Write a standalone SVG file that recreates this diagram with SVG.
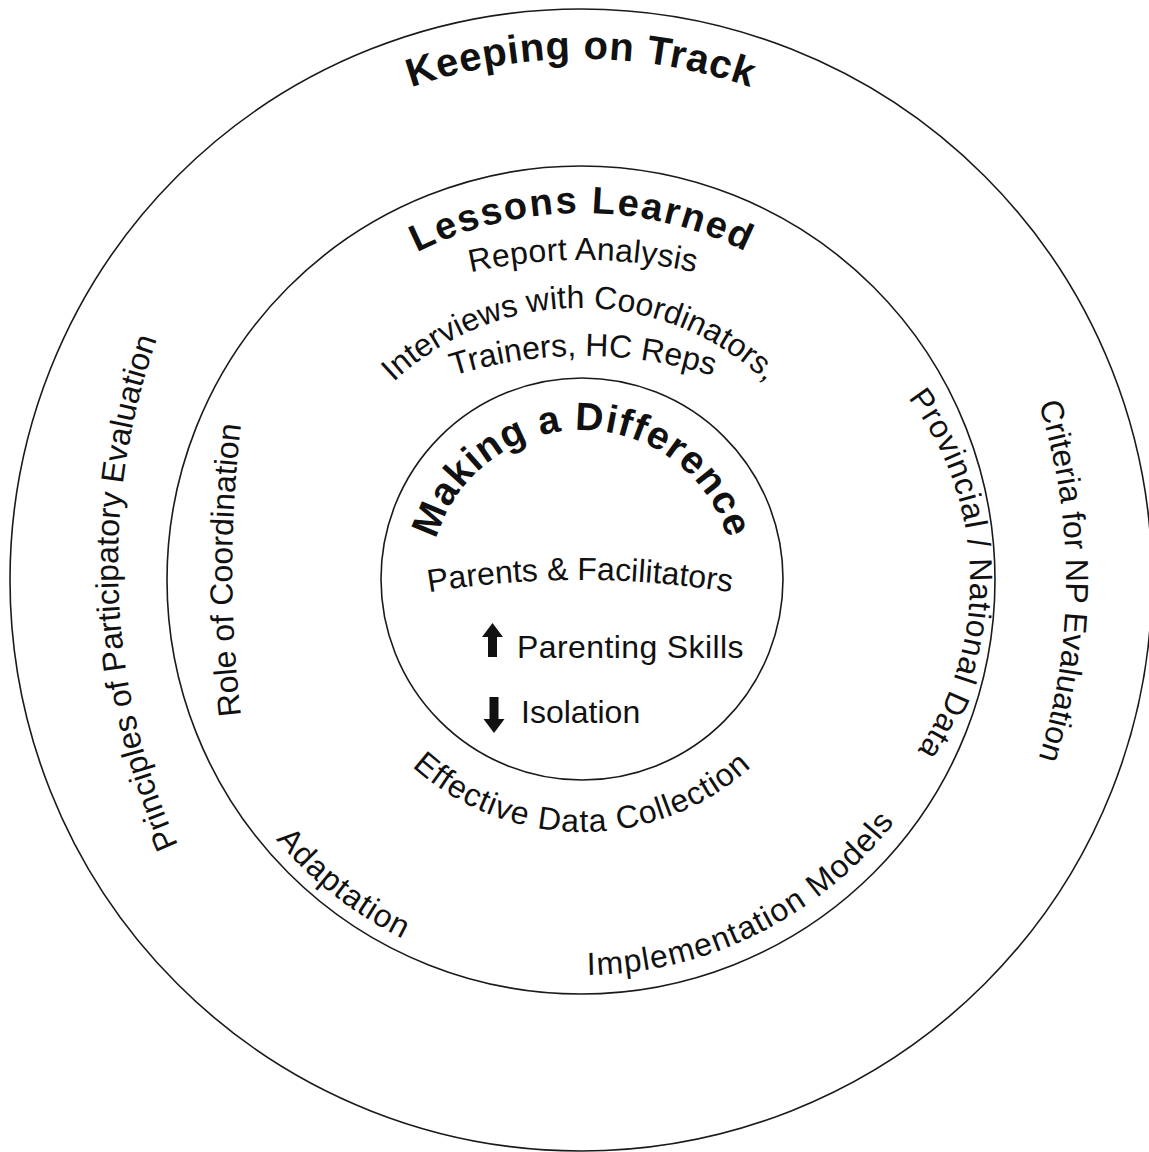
<svg xmlns="http://www.w3.org/2000/svg" width="1149" height="1152" viewBox="0 0 1149 1152">
  <style>
    .ring { fill: none; stroke: #1a1a1a; stroke-width: 1.6; }
    .title { font-family: "Liberation Sans", Arial, sans-serif; font-weight: bold; fill: #111; }
    .label { font-family: "Liberation Sans", Arial, sans-serif; font-size: 32px; fill: #111; }
    .arrow { fill: #111; }
  </style>
  <defs>
    <!-- baseline arcs for the curved labels -->
    <path id="p-keeping" d="M 60 580 A 521 521 0 0 1 1102 580"/>
    <path id="p-lessons" d="M 215 580 A 367 367 0 0 1 949 580"/>
    <path id="p-report" d="M 66 777 A 517 517 0 0 1 1100 777"/>
    <path id="p-interviews" d="M 309 579 A 271 271 0 0 1 851 579"/>
    <path id="p-trainers" d="M 149 790 A 434 434 0 0 1 1017 790"/>
    <path id="p-making" d="M 430 582 A 152 152 0 0 1 734 582"/>
    <path id="p-parents" d="M -350 1510 A 930 930 0 0 1 1510 1510"/>
    <path id="p-effective" d="M 329 579 A 253 253 0 0 0 835 579"/>
    <path id="p-role" d="M 243 730 A 1200 1200 0 0 1 243 410"/>
    <path id="p-principles" d="M 206 900 A 680 680 0 0 1 180 282"/>
    <path id="p-provincial" d="M 856.7 345.8 A 300.4 300.4 0 0 1 868.7 805.9"/>
    <path id="p-criteria" d="M 856.7 132.1 A 586 586 0 0 1 856.7 1029.9"/>
    <path id="p-adaptation" d="M 188.8 662.6 A 402 402 0 0 0 596 980.8"/>
    <path id="p-implementation" d="M 489.6 964.1 A 396 396 0 0 0 945.2 736.9"/>
  </defs>

  <rect width="1149" height="1152" fill="#ffffff"/>

  <!-- outer ring: Keeping on Track -->
  <g id="keeping-on-track">
    <circle class="ring" cx="581" cy="580" r="571"/>
    <text class="title" font-size="40" letter-spacing="0.8"><textPath href="#p-keeping" startOffset="50%" text-anchor="middle">Keeping on Track</textPath></text>
    <text class="label"><textPath href="#p-principles" startOffset="50%" text-anchor="middle">Principles of Participatory Evaluation</textPath></text>
    <text class="label"><textPath href="#p-criteria" startOffset="50%" text-anchor="middle">Criteria for NP Evaluation</textPath></text>
  </g>

  <!-- middle ring: Lessons Learned -->
  <g id="lessons-learned">
    <circle class="ring" cx="581" cy="580" r="414"/>
    <text class="title" font-size="38" letter-spacing="2"><textPath href="#p-lessons" startOffset="50%" text-anchor="middle">Lessons Learned</textPath></text>
    <text class="label" font-size="28" letter-spacing="0.3"><textPath href="#p-report" startOffset="50%" text-anchor="middle">Report Analysis</textPath></text>
    <text class="label"><textPath href="#p-interviews" startOffset="50%" text-anchor="middle">Interviews with Coordinators,</textPath></text>
    <text class="label" font-size="31"><textPath href="#p-trainers" startOffset="50%" text-anchor="middle">Trainers, HC Reps</textPath></text>
    <text class="label" font-size="33"><textPath href="#p-role" startOffset="50%" text-anchor="middle">Role of Coordination</textPath></text>
    <text class="label" letter-spacing="0.7"><textPath href="#p-provincial" startOffset="50%" text-anchor="middle">Provincial / National Data</textPath></text>
    <text class="label" letter-spacing="1"><textPath href="#p-adaptation" startOffset="50%" text-anchor="middle">Adaptation</textPath></text>
    <text class="label" letter-spacing="1.2"><textPath href="#p-implementation" startOffset="50%" text-anchor="middle">Implementation Models</textPath></text>
    <text class="label" font-size="33" letter-spacing="1"><textPath href="#p-effective" startOffset="50%" text-anchor="middle">Effective Data Collection</textPath></text>
  </g>

  <!-- inner ring: Making a Difference -->
  <g id="making-a-difference">
    <circle class="ring" cx="582" cy="579" r="201"/>
    <text class="title" font-size="39" letter-spacing="1.2"><textPath href="#p-making" startOffset="50%" text-anchor="middle">Making a Difference</textPath></text>
    <text class="label"><textPath href="#p-parents" startOffset="50%" text-anchor="middle">Parents &amp; Facilitators</textPath></text>
    <polygon class="arrow" points="492.5,623 503,637 497,637 497,657 488,657 488,637 482,637"/>
    <text class="label" x="517" y="658" letter-spacing="0.4">Parenting Skills</text>
    <polygon class="arrow" points="494,733 504.5,719 498.5,719 498.5,697 489.5,697 489.5,719 483.5,719"/>
    <text class="label" x="521" y="723">Isolation</text>
  </g>
</svg>
